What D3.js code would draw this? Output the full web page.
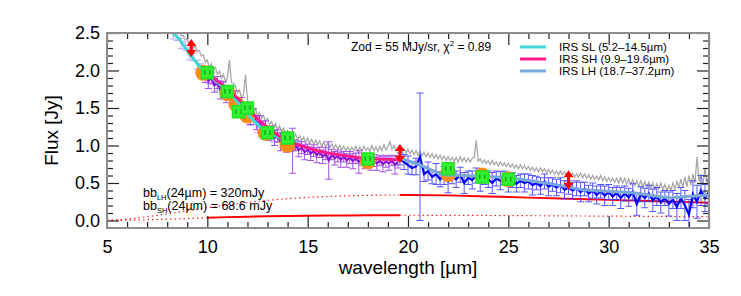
<!DOCTYPE html>
<html><head><meta charset="utf-8">
<script src="https://cdn.jsdelivr.net/npm/d3@7"></script>
<style>body{margin:0;background:#fff}svg{display:block;font-family:"Liberation Sans",Arial,Helvetica,sans-serif}</style>
</head><body><svg id="c" width="741" height="296"></svg>
<script>
// ---------------- data ----------------
const grayStart = 8.6, grayStep = 0.1;
const grayFlux = [
2.51,2.46,2.47,2.41,2.42,2.36,2.37,2.30,2.33,2.25,
2.27,2.19,2.21,2.11,2.14,2.04,2.09,2.00,2.04,1.95,
1.99,1.90,1.95,1.85,1.90,2.14,1.84,1.83,1.79,1.70,
1.74,1.64,1.68,1.94,1.61,1.51,1.55,1.45,1.49,1.40,
1.44,1.36,1.40,1.32,1.36,1.28,1.32,1.24,1.29,1.21,
1.26,1.18,1.23,1.15,1.20,1.13,1.17,1.10,1.15,1.08,
1.13,1.06,1.11,1.04,1.10,1.03,1.08,1.02,1.07,1.01,
1.06,0.99,1.05,0.98,1.03,0.97,1.02,0.96,1.01,0.95,
1.00,0.94,0.99,0.93,0.98,0.92,0.98,0.93,0.99,0.92,
0.98,0.92,0.99,0.93,0.97,0.92,1.00,0.93,0.98,0.92,
0.99,0.93,1.01,0.94,0.99,1.05,0.95,1.00,0.93,0.97,
0.98,0.91,0.96,0.90,0.95,0.89,0.94,0.88,0.93,0.87,
0.92,0.86,0.91,0.85,0.90,0.84,0.89,0.83,0.88,0.82,
0.87,0.81,0.86,0.80,0.85,0.80,0.84,0.79,0.84,0.78,
0.85,0.79,0.84,0.78,0.83,0.78,0.83,0.84,1.07,0.79,
0.82,0.77,0.81,0.76,0.80,0.75,0.80,0.74,0.78,0.73,
0.78,0.73,0.77,0.72,0.76,0.71,0.75,0.70,0.74,0.69,
0.74,0.69,0.73,0.68,0.72,0.67,0.71,0.66,0.70,0.65,
0.70,0.65,0.69,0.64,0.68,0.63,0.67,0.62,0.66,0.61,
0.66,0.61,0.65,0.60,0.64,0.59,0.63,0.58,0.62,0.58,
0.63,0.57,0.62,0.56,0.61,0.55,0.60,0.55,0.59,0.54,
0.60,0.53,0.58,0.52,0.57,0.52,0.56,0.51,0.56,0.50,
0.57,0.50,0.56,0.49,0.55,0.48,0.54,0.47,0.53,0.46,
0.53,0.45,0.52,0.44,0.51,0.43,0.50,0.42,0.49,0.42,
0.50,0.41,0.48,0.40,0.47,0.40,0.50,0.42,0.52,0.44,
0.55,0.44,0.58,0.45,0.60,0.47,0.62,0.50,0.85,0.52,
0.62,0.48,0.70,0.50,0.60];

const slDataStart = 8.3, slDataStep = 0.2;
const slDataFlux = [2.48,2.45,2.36,2.33,2.22,2.18,2.08,2.02,1.95,1.90,1.86,1.80,1.79,1.70,1.69,1.60,
  1.56,1.46,1.44,1.34,1.33,1.25,1.24,1.16,1.15,1.10,1.10,1.05,1.07,1.02,1.03,1.00];
const slDataErr = [0.06,0.05,0.07,0.06,0.08,0.05,0.06,0.07,0.06,0.08,0.05,0.07,0.06,0.09,0.05,0.07,
  0.06,0.08,0.05,0.07,0.06,0.08,0.05,0.06,0.07,0.05,0.06,0.07,0.05,0.06,0.05,0.06];

const shDataStart = 9.9, shDataStep = 0.15;
const shDataFlux = [
1.92,1.86,1.90,1.80,1.84,1.74,1.78,1.66,1.72,1.62,
1.66,1.52,1.56,1.46,1.49,1.38,1.41,1.30,1.33,1.22,
1.25,1.16,1.19,1.10,1.13,1.05,1.08,1.00,1.04,0.93,
1.00,0.94,0.97,0.91,0.95,0.89,0.93,0.87,0.91,0.85,
0.89,0.80,0.88,0.83,0.86,0.81,0.85,0.80,0.84,0.79,
0.83,0.78,0.82,0.78,0.81,0.77,0.80,0.76,0.80,0.75,
0.79,0.76,0.80,0.74,0.78];
const shDataErr = [
0.08,0.10,0.07,0.09,0.08,0.12,0.07,0.09,0.08,0.10,
0.07,0.11,0.08,0.09,0.07,0.10,0.08,0.09,0.07,0.10,
0.08,0.09,0.07,0.10,0.08,0.12,0.07,0.09,0.08,0.30,
0.07,0.09,0.08,0.10,0.07,0.09,0.08,0.10,0.07,0.09,
0.08,0.25,0.07,0.09,0.08,0.10,0.07,0.09,0.08,0.10,
0.07,0.15,0.08,0.09,0.07,0.10,0.08,0.09,0.07,0.10,
0.08,0.09,0.07,0.12,0.08];

const lhDataStart = 19.6, lhDataStep = 0.2;
const lhDataFlux = [
0.82,0.78,0.74,0.70,0.72,0.85,0.62,0.66,0.58,0.62,
0.55,0.60,0.52,0.58,0.55,0.61,0.50,0.57,0.54,0.60,
0.52,0.57,0.55,0.50,0.56,0.53,0.57,0.51,0.54,0.49,
0.53,0.50,0.52,0.47,0.50,0.46,0.52,0.45,0.48,0.44,
0.47,0.41,0.44,0.40,0.43,0.38,0.42,0.36,0.40,0.34,
0.39,0.33,0.38,0.32,0.37,0.30,0.36,0.31,0.38,0.22,
0.35,0.30,0.36,0.27,0.32,0.24,0.30,0.22,0.28,0.18,
0.30,0.20,0.08,0.35,0.25,0.40,0.30,0.38];
const lhDataErr = [
0.08,0.10,0.12,0.09,0.11,0.85,0.10,0.12,0.09,0.14,
0.10,0.12,0.15,0.09,0.11,0.10,0.14,0.09,0.12,0.10,
0.13,0.09,0.11,0.14,0.10,0.12,0.09,0.13,0.10,0.11,
0.09,0.12,0.10,0.13,0.09,0.11,0.10,0.12,0.09,0.11,
0.10,0.12,0.09,0.11,0.10,0.13,0.09,0.11,0.10,0.12,
0.09,0.13,0.10,0.12,0.09,0.14,0.10,0.12,0.11,0.15,
0.10,0.13,0.11,0.15,0.12,0.14,0.10,0.16,0.12,0.18,
0.14,0.20,0.20,0.18,0.22,0.20,0.18,0.16];

const slModelWave = [8.2,8.6,9.14,9.63,10.03,10.48,11.13,11.53,12.13,12.62,13.27,13.97,14.5];
const slModelFlux = [2.52,2.42,2.21,2.05,1.94,1.85,1.70,1.57,1.38,1.25,1.14,1.07,1.03];
const shModelWave = [9.9,10.5,11,11.5,12,12.5,13,13.5,14,14.5,15,15.5,16,16.5,17,17.5,18,18.5,19,19.6];
const shModelFlux = [1.98,1.86,1.76,1.63,1.50,1.36,1.24,1.14,1.07,1.01,0.97,0.93,0.90,0.88,0.86,0.84,0.83,0.82,0.815,0.81];
const lhModelWave = [19.6,20.6,21.7,23.7,25.1,27.1,28.7,31.2,33.05,33.9,35];
const lhModelFlux = [0.83,0.74,0.61,0.59,0.57,0.49,0.41,0.37,0.30,0.32,0.34];

const bbWave = [5,6,7,8,9,10,11,12,13,14,15,16,17,18,19,19.6,20,22,24,26,28,30,32,34,35];
const bbLH = [0.0,0.02,0.05,0.09,0.13,0.17,0.21,0.24,0.27,0.29,0.31,0.32,0.33,0.335,0.34,0.34,0.34,0.335,0.32,0.305,0.29,0.275,0.26,0.245,0.235];
const bbSH = [0.0,0.004,0.01,0.018,0.027,0.037,0.045,0.051,0.056,0.06,0.063,0.066,0.068,0.069,0.07,0.07,0.07,0.069,0.067,0.064,0.061,0.058,0.055,0.052,0.05];

const photWave = [9.8,11.0,11.45,12.0,12.9,14.0,18.0,22.0,23.7,25.0];
const photFlux = [1.97,1.70,1.55,1.40,1.17,1.01,0.79,0.62,0.60,0.55];
const sqWave = [10.0,11.0,11.55,12.0,13.0,14.0,18.0,22.0,23.7,25.0];
const sqFlux = [1.97,1.72,1.45,1.50,1.17,1.10,0.82,0.69,0.58,0.55];

const arrowWave = [9.2,19.6,28.0];
const arrowLo = [2.18,0.77,0.41];
const arrowHi = [2.42,1.02,0.67];

const xTicks = [5,10,15,20,25,30,35];
const yTicks = [0.0,0.5,1.0,1.5,2.0,2.5];
const legendLabels = ["IRS SL (5.2\u201314.5\u00b5m)","IRS SH (9.9\u201319.6\u00b5m)","IRS LH (18.7\u201337.2\u00b5m)"];
const legendColors = ["#40d8d8","#ff1a8c","#7aa8d8"];

// ---------------- drawing ----------------
const svg = d3.select("#c");
const x = d3.scaleLinear().domain([5,35]).range([107,709]);
const y = d3.scaleLinear().domain([-0.1,2.5]).range([228,33]);
svg.append("defs").append("clipPath").attr("id","clip").append("rect")
  .attr("x",x(5)).attr("y",y(2.5)).attr("width",x(35)-x(5)).attr("height",y(-0.1)-y(2.5));
const g = svg.append("g").attr("clip-path","url(#clip)");

const grid = (start, step, arr) => arr.map((v,i)=>start+i*step);
const line = d3.line().x(d=>x(d[0])).y(d=>y(d[1]));
const zip = (a,b)=>a.map((v,i)=>[v,b[i]]);

// blackbody curves
const bbLHpts = zip(bbWave,bbLH), bbSHpts = zip(bbWave,bbSH);
const dotted = (pts)=> g.append("path").attr("d",line(pts)).attr("fill","none").attr("stroke","#ff2020").attr("stroke-width",1.2).attr("stroke-dasharray","1.5,3");
const solid = (pts)=> g.append("path").attr("d",line(pts)).attr("fill","none").attr("stroke","#ff0000").attr("stroke-width",2);
dotted(bbLHpts.filter(d=>d[0]<=19.6));
solid(bbLHpts.filter(d=>d[0]>=19.6));
dotted(bbSHpts.filter(d=>d[0]<=10));
solid(bbSHpts.filter(d=>d[0]>=10 && d[0]<=19.6));
dotted(bbSHpts.filter(d=>d[0]>=19.6));

function errSeries(wl, fl, er, barColor, lineColor, op, cap, lw){
  const gg = g.append("g").attr("stroke",barColor).attr("stroke-width",1).attr("opacity",op);
  wl.forEach((w,i)=>{
    const cx=x(w), y1=y(fl[i]-er[i]), y2=y(fl[i]+er[i]);
    gg.append("line").attr("x1",cx).attr("x2",cx).attr("y1",y1).attr("y2",y2);
    gg.append("line").attr("x1",cx-cap).attr("x2",cx+cap).attr("y1",y1).attr("y2",y1);
    gg.append("line").attr("x1",cx-cap).attr("x2",cx+cap).attr("y1",y2).attr("y2",y2);
  });
  g.append("path").attr("d",line(zip(wl,fl))).attr("fill","none").attr("stroke",lineColor).attr("stroke-width",lw);
}

// gray spectrum
g.append("path").attr("d",line(zip(grid(grayStart,grayStep,grayFlux),grayFlux)))
  .attr("fill","none").attr("stroke","#a8a8a8").attr("stroke-width",1.3);

errSeries(grid(slDataStart,slDataStep,slDataFlux), slDataFlux, slDataErr, "#c79af0", "#c79af0", 0.9, 3.5, 1.5);
errSeries(grid(shDataStart,shDataStep,shDataFlux), shDataFlux, shDataErr, "#9a40e8", "#8a10d8", 0.9, 3.5, 2);
errSeries(grid(lhDataStart,lhDataStep,lhDataFlux), lhDataFlux, lhDataErr, "#3a3aff", "#0000ff", 0.85, 3.5, 2.2);

// orange photometry
g.append("g").selectAll("circle").data(zip(photWave,photFlux)).join("circle")
  .attr("cx",d=>x(d[0])).attr("cy",d=>y(d[1])).attr("r",8).attr("fill","#ff8c1a");

// model lines
[[slModelWave,slModelFlux,legendColors[0]],[shModelWave,shModelFlux,legendColors[1]],[lhModelWave,lhModelFlux,legendColors[2]]]
  .forEach(([w,f,c])=> g.append("path").attr("d",line(zip(w,f))).attr("fill","none").attr("stroke",c).attr("stroke-width",3));

// green squares
const sq = g.append("g");
zip(sqWave,sqFlux).forEach(d=>{
  const cx=x(d[0]), cy=y(d[1]);
  sq.append("rect").attr("x",cx-6).attr("y",cy-6).attr("width",12).attr("height",12)
    .attr("fill","#33f033").attr("stroke","#22e022").attr("stroke-width",1.5);
  sq.append("line").attr("x1",cx-2.5).attr("x2",cx-2.5).attr("y1",cy-2.5).attr("y2",cy+2).attr("stroke","#119911").attr("stroke-width",1.2);
  sq.append("line").attr("x1",cx+2.5).attr("x2",cx+2.5).attr("y1",cy-2.5).attr("y2",cy+2).attr("stroke","#119911").attr("stroke-width",1.2);
});

// red double arrows
arrowWave.forEach((w,i)=>{
  const cx=x(w), yt=y(arrowHi[i]), yb=y(arrowLo[i]);
  g.append("line").attr("x1",cx).attr("x2",cx).attr("y1",yt+5).attr("y2",yb-5).attr("stroke","#ff0000").attr("stroke-width",3);
  g.append("path").attr("d",`M${cx-5},${yt+7}L${cx},${yt}L${cx+5},${yt+7}Z`).attr("fill","#ff0000");
  g.append("path").attr("d",`M${cx-5},${yb-7}L${cx},${yb}L${cx+5},${yb-7}Z`).attr("fill","#ff0000");
});

// ---------------- axes ----------------
const minorX = d3.range(5,36,1).filter(v=>v%5!==0);
const minorY = d3.range(-0.0,2.51,0.1).map(v=>+v.toFixed(1)).filter(v=>Math.round(v*10)%5!==0);
const fmt = d3.format(".1f");
function styleAxis(sel){ sel.select(".domain").remove(); sel.selectAll("line").attr("stroke","#222").attr("stroke-width",1.2);
  sel.selectAll("text").attr("fill","#000").style("font-size","18px").style("font-family",'"Liberation Sans",Arial,sans-serif'); }
svg.append("g").attr("transform",`translate(0,${y(-0.1)})`).call(d3.axisBottom(x).tickValues(xTicks).tickSize(-12).tickPadding(12).tickFormat(d3.format("d"))).call(styleAxis);
svg.append("g").attr("transform",`translate(0,${y(-0.1)})`).call(d3.axisBottom(x).tickValues(minorX).tickSize(-6).tickFormat("")).call(styleAxis);
svg.append("g").attr("transform",`translate(0,${y(2.5)})`).call(d3.axisTop(x).tickValues(xTicks).tickSize(-12).tickFormat("")).call(styleAxis);
svg.append("g").attr("transform",`translate(0,${y(2.5)})`).call(d3.axisTop(x).tickValues(minorX).tickSize(-6).tickFormat("")).call(styleAxis);
svg.append("g").attr("transform",`translate(${x(5)},0)`).call(d3.axisLeft(y).tickValues(yTicks).tickSize(-12).tickPadding(7).tickFormat(fmt)).call(styleAxis);
svg.append("g").attr("transform",`translate(${x(5)},0)`).call(d3.axisLeft(y).tickValues(minorY).tickSize(-6).tickFormat("")).call(styleAxis);
svg.append("g").attr("transform",`translate(${x(35)},0)`).call(d3.axisRight(y).tickValues(yTicks).tickSize(-12).tickFormat("")).call(styleAxis);
svg.append("g").attr("transform",`translate(${x(35)},0)`).call(d3.axisRight(y).tickValues(minorY).tickSize(-6).tickFormat("")).call(styleAxis);
svg.append("rect").attr("x",x(5)).attr("y",y(2.5)).attr("width",x(35)-x(5)).attr("height",y(-0.1)-y(2.5))
  .attr("fill","none").attr("stroke","#8c8c8c").attr("stroke-width",2);

// axis titles
svg.append("text").attr("x",(x(5)+x(35))/2).attr("y",274).attr("text-anchor","middle").style("font-size","19px").text("wavelength [\u00b5m]");
svg.append("text").attr("transform",`translate(58,${(y(2.5)+y(-0.1))/2}) rotate(-90)`).attr("text-anchor","middle").style("font-size","19px").text("Flux [Jy]");

// annotation
const zt = svg.append("text").attr("x",351).attr("y",51).style("font-size","12px");
zt.append("tspan").text("Zod = 55 MJy/sr, \u03c7");
zt.append("tspan").attr("dy",-5).style("font-size","8px").text("2");
zt.append("tspan").attr("dy",5).text(" = 0.89");

// legend
legendLabels.forEach((t,i)=>{
  const ly = 47 + i*12;
  svg.append("line").attr("x1",520).attr("x2",546).attr("y1",ly).attr("y2",ly).attr("stroke",legendColors[i]).attr("stroke-width",3);
  svg.append("text").attr("x",559).attr("y",ly+4).style("font-size","11.5px").text(t);
});

// blackbody labels
const bbl = [["LH","(24\u00b5m) = 320mJy",197],["SH","(24\u00b5m) = 68.6 mJy",210]];
bbl.forEach(([sub,rest,by])=>{
  const t = svg.append("text").attr("x",143).attr("y",by).style("font-size","12.5px");
  t.append("tspan").text("bb");
  t.append("tspan").attr("dy",2.5).style("font-size","7.5px").text(sub);
  t.append("tspan").attr("dy",-2.5).text(rest);
});
</script></body></html>
